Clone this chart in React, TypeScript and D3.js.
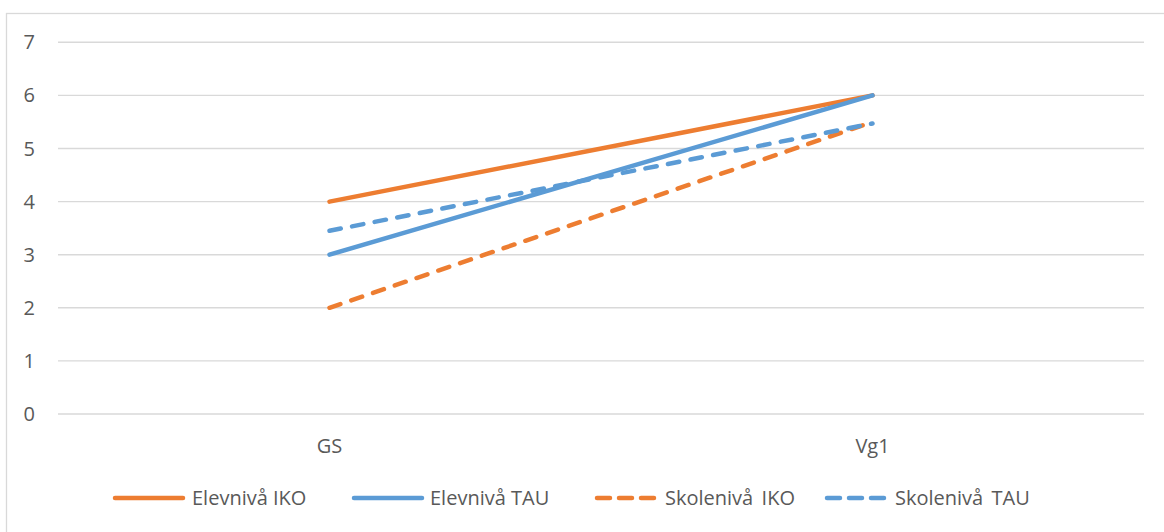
import React from "react";
import * as d3 from "d3";

const categories = ["GS", "Vg1"];
const yTicks = [0, 1, 2, 3, 4, 5, 6, 7];

const elevnivaIKO = [4, 6];
const elevnivaTAU = [3, 6];
const skolenivaIKO = [2, 5.5];
const skolenivaTAU = [3.45, 5.47];

const seriesNames = ["Elevnivå IKO", "Elevnivå TAU", "Skolenivå  IKO", "Skolenivå  TAU"];

const ORANGE = "#ED7D31";
const BLUE = "#5B9BD5";
const GRID = "#D9D9D9";
const TEXT = "#595959";
const FONT = "'Open Sans', 'Noto Sans', sans-serif";

const W = 1164;
const H = 532;
const plot = { left: 58, right: 1144, top: 42.3, bottom: 414 };

export default function App() {
  const x = d3.scaleBand<string>().domain(categories).range([plot.left, plot.right]);
  const y = d3.scaleLinear().domain([0, 7]).range([plot.bottom, plot.top]);
  const cx = (c: string) => (x(c) ?? 0) + x.bandwidth() / 2;

  const line = d3
    .line<number>()
    .x((_, i) => cx(categories[i]))
    .y((d) => y(d));

  const series = [
    { name: seriesNames[0], values: elevnivaIKO, color: ORANGE, dashed: false },
    { name: seriesNames[1], values: elevnivaTAU, color: BLUE, dashed: false },
    { name: seriesNames[2], values: skolenivaIKO, color: ORANGE, dashed: true },
    { name: seriesNames[3], values: skolenivaTAU, color: BLUE, dashed: true },
  ];

  const lw = 4.5;
  const dash = "11.5 11.5";

  // legend layout: swatch start x, text start x
  const legendY = 498;
  const legendItems = [
    { sx: 115, tx: 192 },
    { sx: 354, tx: 430 },
    { sx: 597, tx: 665 },
    { sx: 827, tx: 895 },
  ];

  return (
    <svg
      width={W}
      height={H}
      style={{ position: "fixed", left: 0, top: 0, background: "#fff" }}
      fontFamily={FONT}
    >
      <rect x={0} y={0} width={W} height={H} fill="#fff" />
      <rect x={6.5} y={13.5} width={W + 20} height={H + 20} fill="none" stroke={GRID} strokeWidth={1.3} />

      {yTicks.map((t) => (
        <g key={t}>
          <line x1={plot.left} x2={plot.right} y1={y(t)} y2={y(t)} stroke={GRID} strokeWidth={1.4} />
          <text x={35} y={y(t)} dy="0.35em" textAnchor="end" fontSize={20} fill={TEXT}>
            {t}
          </text>
        </g>
      ))}

      {categories.map((c) => (
        <text key={c} x={cx(c)} y={446} dy="0.35em" textAnchor="middle" fontSize={20} fill={TEXT}>
          {c}
        </text>
      ))}

      {series.map((s) => (
        <path
          key={s.name}
          d={line(s.values) ?? ""}
          fill="none"
          stroke={s.color}
          strokeWidth={lw}
          strokeLinecap="round"
          strokeDasharray={s.dashed ? dash : undefined}
        />
      ))}

      {series.map((s, i) => (
        <g key={"lg" + s.name}>
          <line
            x1={legendItems[i].sx}
            x2={legendItems[i].sx + (s.dashed ? 58 : 68)}
            y1={legendY}
            y2={legendY}
            stroke={s.color}
            strokeWidth={lw}
            strokeLinecap="round"
            strokeDasharray={s.dashed ? "13 9" : undefined}
          />
          <text
            x={legendItems[i].tx}
            y={legendY}
            dy="0.35em"
            fontSize={20}
            fill={TEXT}
            wordSpacing={s.dashed ? -1 : 0}
            style={{ whiteSpace: "pre" }}
          >
            {s.name}
          </text>
        </g>
      ))}
    </svg>
  );
}
